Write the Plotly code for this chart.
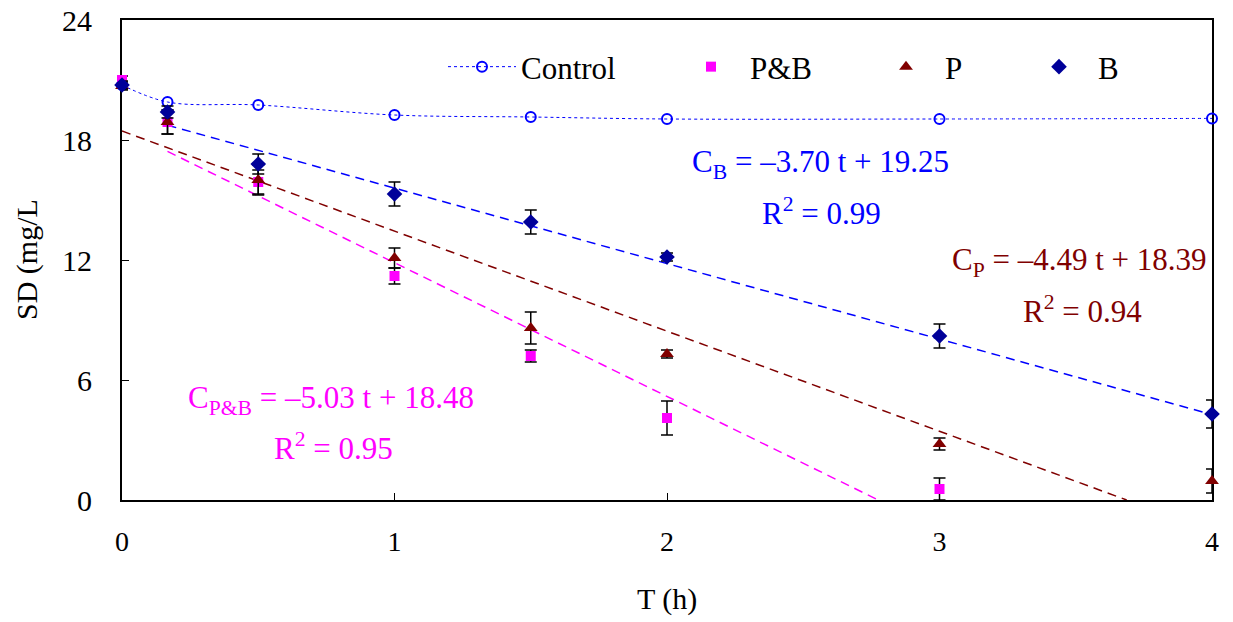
import plotly.graph_objects as go

# ---- data ----
t = [0, 0.167, 0.5, 1, 1.5, 2, 3, 4]
control = [20.75, 19.9, 19.75, 19.25, 19.15, 19.05, 19.05, 19.08]
pb = [21.0, 18.9, 15.9, 11.2, 7.2, 4.1, 0.55, None]
pb_err = [0.2, 0.6, 0.6, 0.4, 0.3, 0.85, 0.55, 0]
p = [20.7, 18.9, 16.0, 12.1, 8.6, 7.3, 2.8, 0.95]
p_err = [0.2, 0.6, 0.75, 0.5, 0.8, 0.2, 0.3, 0.6]
b = [20.75, 19.4, 16.8, 15.3, 13.9, 12.15, 8.2, 4.3]
b_err = [0.2, 0.3, 0.5, 0.6, 0.6, 0.2, 0.6, 0.7]

# drawn trend lines (as they appear in the picture)
b_fit_t = [0.167, 4]
b_fit = [18.74, 4.27]
p_fit_t = [0, 3.687]
p_fit = [18.45, 0]
pb_fit_t = [0.167, 2.775]
pb_fit = [17.43, 0]

x_ticks = [0, 1, 2, 3, 4]
y_ticks = [0, 6, 12, 18, 24]

FONT = "Liberation Serif"
BLUE = "#0000FF"
NAVY = "#000099"
MAROON = "#800000"
MAGENTA = "#FF00FF"

fig = go.Figure()

fig.add_trace(go.Scatter(
    x=t, y=control, name="Control", mode="lines+markers",
    line=dict(color=BLUE, width=1, dash="dot", shape="spline"),
    marker=dict(symbol="circle-open", size=10, color=BLUE, line=dict(width=2, color=BLUE)),
    cliponaxis=False, legendwidth=146))

fig.add_trace(go.Scatter(
    x=pb_fit_t, y=pb_fit, mode="lines", showlegend=False,
    line=dict(color=MAGENTA, width=1.5, dash="9px,6px")))
fig.add_trace(go.Scatter(
    x=p_fit_t, y=p_fit, mode="lines", showlegend=False,
    line=dict(color=MAROON, width=1.5, dash="9px,6px")))
fig.add_trace(go.Scatter(
    x=b_fit_t, y=b_fit, mode="lines", showlegend=False,
    line=dict(color=BLUE, width=1.5, dash="9px,6px")))

err_style = dict(type="data", color="black", thickness=1.5, width=6)

fig.add_trace(go.Scatter(
    x=t, y=pb, name="P&B", mode="markers",
    marker=dict(symbol="square", size=10, color=MAGENTA),
    error_y=dict(array=pb_err, **err_style),
    cliponaxis=False, legendwidth=112))
fig.add_trace(go.Scatter(
    x=t, y=p, name="P", mode="markers",
    marker=dict(symbol="triangle-up", size=12, color=MAROON),
    error_y=dict(array=p_err, **err_style),
    cliponaxis=False, legendwidth=70))
fig.add_trace(go.Scatter(
    x=t, y=b, name="B", mode="markers",
    marker=dict(symbol="diamond", size=12, color=NAVY),
    error_y=dict(array=b_err, **err_style),
    cliponaxis=False, legendwidth=30))

ann_font = 31
annotations = [
    dict(x=2.565, y=(500 - 165) / 19.92, text="C<sub>B</sub> = –3.70 t + 19.25", color=BLUE),
    dict(x=2.568, y=(500 - 213) / 19.92, text="R<sup>2</sup> = 0.99", color=BLUE),
    dict(x=3.515, y=(500 - 263) / 19.92, text="C<sub>P</sub> = –4.49 t + 18.39", color=MAROON),
    dict(x=3.524, y=(500 - 310) / 19.92, text="R<sup>2</sup> = 0.94", color=MAROON),
    dict(x=0.767, y=(500 - 400) / 19.92, text="C<sub>P&B</sub> = –5.03 t + 18.48", color=MAGENTA),
    dict(x=0.775, y=(500 - 447) / 19.92, text="R<sup>2</sup> = 0.95", color=MAGENTA),
]
ann_list = []
for a in annotations:
    ann_list.append(dict(x=a["x"], y=a["y"], xref="x", yref="y", text=a["text"],
                         showarrow=False, xanchor="center", yanchor="middle",
                         font=dict(family=FONT, size=ann_font, color=a["color"])))

ann_list.append(dict(x=(27 - 122) / 1090, y=0.5, xref="paper", yref="paper",
                     text="SD (mg/L", textangle=-90, showarrow=False,
                     xanchor="center", yanchor="middle",
                     font=dict(family=FONT, size=30, color="black")))
ann_list.append(dict(x=0.5, y=(500 - 599) / 480, xref="paper", yref="paper",
                     text="T (h)", showarrow=False, xanchor="center", yanchor="middle",
                     font=dict(family=FONT, size=30, color="black")))

fig.update_layout(
    width=1225, height=614,
    margin=dict(l=114, r=21, t=12, b=122, autoexpand=False),
    paper_bgcolor="white", plot_bgcolor="white",
    font=dict(family=FONT, size=28, color="black"),
    showlegend=True,
    legend=dict(orientation="h", x=(443 - 122) / 1090, xanchor="left",
                y=(500 - 67) / 480, yanchor="middle",
                bgcolor="rgba(0,0,0,0)", itemwidth=68,
                font=dict(family=FONT, size=31, color="black")),
    annotations=ann_list,
    xaxis=dict(range=[0, 4], tickvals=x_ticks, ticks="inside", ticklen=7, tickwidth=1,
               tickcolor="black", showline=True, linecolor="black", linewidth=2,
               mirror=True, showgrid=False, zeroline=False, layer="below traces",
               automargin=False,
               ticklabelstandoff=15, tickfont=dict(family=FONT, size=28)),
    yaxis=dict(range=[0, 24], tickvals=y_ticks, ticks="inside", ticklen=7, tickwidth=1,
               tickcolor="black", showline=True, linecolor="black", linewidth=2,
               mirror=True, showgrid=False, zeroline=False, layer="below traces",
               automargin=False,
               ticklabelstandoff=22, ticklabeloverflow="allow",
               tickfont=dict(family=FONT, size=30)),
)

fig.write_html("out.html")
